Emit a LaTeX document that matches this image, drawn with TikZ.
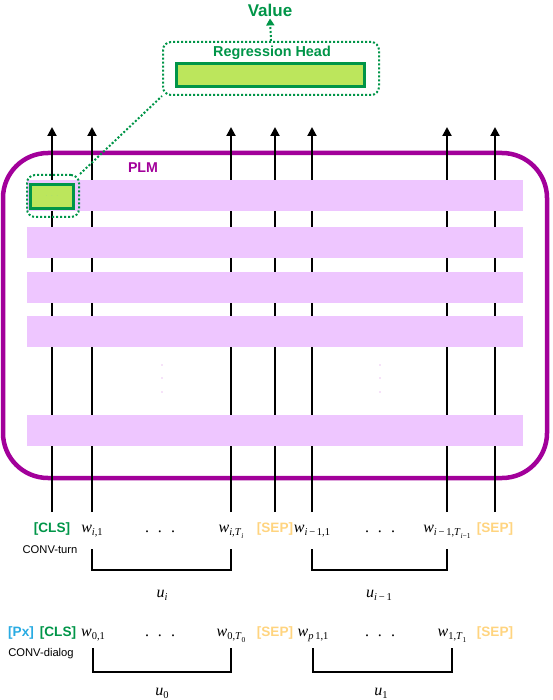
\documentclass[tikz,border=0pt]{standalone}
\usepackage{fontspec}
\setsansfont{Liberation Sans}
\newfontfamily\tokfont{Liberation Serif}
\usetikzlibrary{arrows.meta}
\definecolor{PlmPurple}{HTML}{A2009A}
\definecolor{BandPurple}{HTML}{EEC6FF}
\definecolor{HeadGreen}{HTML}{009548}
\definecolor{BarGreen}{HTML}{BCE65C}
\definecolor{PxBlue}{HTML}{29ABE2}
\definecolor{SepYellow}{HTML}{FFD47F}

\newcommand{\tsub}[1]{\raisebox{-3.5pt}{\fontsize{10.5}{10.5}\selectfont #1}}
\newcommand{\tsubsub}[1]{\raisebox{-2.5pt}{\fontsize{7.5}{7.5}\selectfont #1}}
\newcommand{\wdots}{.\hspace{9pt}.\hspace{9pt}.}

\tikzset{
  tok/.style={inner sep=1pt, anchor=base, font=\fontsize{16}{16}\selectfont\tokfont},
  special/.style={inner sep=1pt, anchor=base, font=\fontsize{13.6}{13.6}\selectfont\sffamily\bfseries},
  cls/.style={special, text=HeadGreen},
  sep/.style={special, text=SepYellow},
  px/.style={special, text=PxBlue},
  mode/.style={inner sep=1pt, font=\fontsize{11.2}{11.2}\selectfont\sffamily},
  tokarrow/.style={line width=2pt, -{Triangle[length=9pt,width=9pt]}},
  brace/.style={line width=2.5pt},
  dotline/.style={HeadGreen, line width=2pt, dash pattern=on 2pt off 2pt},
  dotbox/.style={draw=HeadGreen, line width=2pt, dash pattern=on 2pt off 2pt, rounded corners=8pt, inner sep=0pt},
  bar/.style={draw=HeadGreen, line width=3pt, fill=BarGreen, inner sep=0pt},
}

\begin{document}
\begin{tikzpicture}[x=1pt, y=-1pt]
    \useasboundingbox (0,0) rectangle (552,700);
    % PLM frame
    \draw[PlmPurple, line width=4.5pt, rounded corners=45pt] (3,153) rectangle (547,478);
    \node[text=PlmPurple, font=\fontsize{14.2}{14.2}\selectfont\sffamily\bfseries] (plm) at (143,168) {PLM};

    % CONV-turn input
    \node[cls] (cls1) at (52,532) {[CLS]};
    \node[tok] (wa1) at (92,532) {\textit{w}\tsub{\textit{i},1}};
    \node[tok] (dots1) at (160,532) {\wdots};
    \node[tok] (wb1) at (231,532) {\textit{w}\tsub{\textit{i},\textit{T}\tsubsub{\textit{i}}}};
    \node[sep] (sep1) at (275,532) {[SEP]};
    \node[tok] (wc1) at (312,532) {\textit{w}\tsub{\textit{i}\,−\,1,1}};
    \node[tok] (dots2) at (380,532) {\wdots};
    \node[tok] (wd1) at (447,532) {\textit{w}\tsub{\textit{i}\,−\,1,\textit{T}\tsubsub{\textit{i}−1}}};
    \node[sep] (sep2) at (495,532) {[SEP]};
    \node[mode] (turn) at (50,550) {CONV-turn};

    \coordinate (top) at (0,127);
    \coordinate (bot) at (0,512);
    \foreach \t in {cls1,wa1,wb1,sep1,wc1,wd1,sep2}
        \draw[tokarrow] (\t |- bot) -- (\t |- top);

    % layers
    \foreach \y in {180,227,272,316,415}
        \fill[BandPurple] (27,\y) rectangle (523,\y+31);
    \foreach \x in {162,380}
        \foreach \y in {365,378,392}
            \fill[BandPurple!80!PlmPurple!60] (\x,\y) circle (0.8);

    % regression head
    \node[dotbox, minimum width=52pt, minimum height=42pt] (clsbox) at (53,196) {};
    \node[bar, minimum width=43pt, minimum height=24pt] (clsbar) at (52,196.5) {\color{HeadGreen!50}\tiny$\cdot\,\cdot\,\cdot$};
    \node[dotbox, minimum width=216pt, minimum height=53pt] (head) at (271,68.5) {};
    \node[bar, minimum width=188pt, minimum height=23pt] (headbar) at (270.5,75) {};
    \node[text=HeadGreen, font=\fontsize{14.4}{14.4}\selectfont\sffamily\bfseries] (headlbl) at (272,53) {Regression Head};
    \node[text=HeadGreen, font=\fontsize{17}{17}\selectfont\sffamily\bfseries, inner sep=2pt] (value) at (270,10) {Value};
    \draw[dotline, -{Triangle[length=7pt,width=8pt]}] (head.north) -- (value.south);
    \draw[dotline] (clsbox.north east) -- (head.south west);

    % utterances, turn
    \coordinate (bt1) at (0,549);
    \draw[brace] (wa1 |- bt1) -- ++(0,21) -| (wb1 |- bt1);
    \draw[brace] (wc1 |- bt1) -- ++(0,21) -| (wd1 |- bt1);
    \node[tok] (ui) at (162,597) {\textit{u}\tsub{\textit{i}}};
    \node[tok] (uim) at (379,597) {\textit{u}\tsub{\textit{i}\,−\,1}};

    % CONV-dialog input
    \node[px] (px) at (21,636) {[Px]};
    \node[cls] (cls2) at (58,636) {[CLS]};
    \node[tok] (w01) at (93,636) {\textit{w}\tsub{0,1}};
    \node[tok] (dots3) at (160,636) {\wdots};
    \node[tok] (w0T) at (231,636) {\textit{w}\tsub{0,\textit{T}\tsubsub{0}}};
    \node[sep] (sep3) at (275,636) {[SEP]};
    \node[tok] (wp1) at (313,636) {\textit{w}\tsub{\textit{p}\,1,1}};
    \node[tok] (dots4) at (380,636) {\wdots};
    \node[tok] (w1T) at (452,636) {\textit{w}\tsub{1,\textit{T}\tsubsub{1}}};
    \node[sep] (sep4) at (495,636) {[SEP]};
    \node[mode] (dialog) at (41,654) {CONV-dialog};

    % utterances, dialog
    \coordinate (bt2) at (0,648);
    \draw[brace] (w01 |- bt2) -- ++(0,24) -| (w0T |- bt2);
    \draw[brace] (wp1 |- bt2) -- ++(0,24) -| (w1T |- bt2);
    \node[tok] (u0) at (162,695) {\textit{u}\tsub{0}};
    \node[tok] (u1) at (381,695) {\textit{u}\tsub{1}};
\end{tikzpicture}
\end{document}
